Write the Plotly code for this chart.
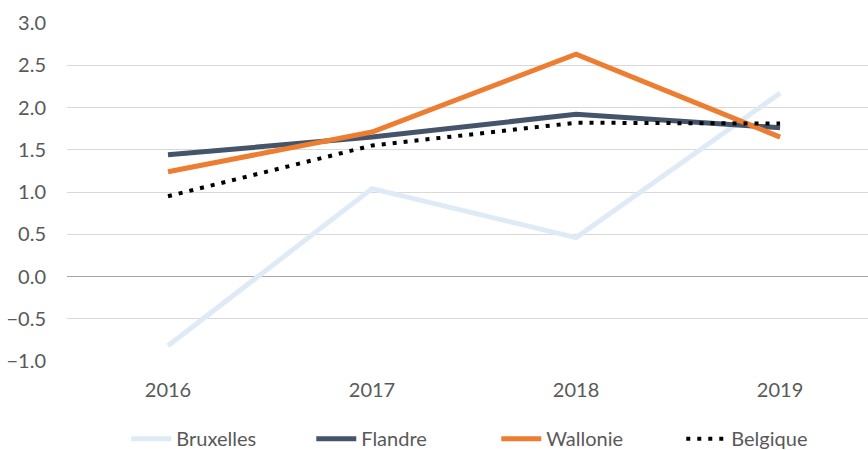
import plotly.graph_objects as go

years = ["2016", "2017", "2018", "2019"]
bruxelles = [-0.82, 1.04, 0.46, 2.17]
flandre = [1.44, 1.65, 1.92, 1.76]
wallonie = [1.24, 1.71, 2.63, 1.65]
belgique = [0.95, 1.55, 1.82, 1.81]
y_ticks = [-1.0, -0.5, 0.0, 0.5, 1.0, 1.5, 2.0, 2.5, 3.0]

fig = go.Figure()
fig.add_trace(go.Scatter(x=years, y=bruxelles, name="Bruxelles", mode="lines",
                         line=dict(color="#DEEBF7", width=5)))
fig.add_trace(go.Scatter(x=years, y=flandre, name="Flandre", mode="lines",
                         line=dict(color="#44546A", width=5)))
fig.add_trace(go.Scatter(x=years, y=wallonie, name="Wallonie", mode="lines",
                         line=dict(color="#ED7D31", width=5)))
fig.add_trace(go.Scatter(x=years, y=belgique, name="Belgique", mode="lines",
                         line=dict(color="#000000", width=4, dash="4px,7px")))

fig.update_layout(
    width=868, height=450,
    margin=dict(l=67, r=0, t=23, b=89, autoexpand=False),
    paper_bgcolor="white", plot_bgcolor="white",
    font=dict(family="Lato, Open Sans, sans-serif", size=20, color="#595959"),
    showlegend=True,
    legend=dict(orientation="h", x=0.074, xanchor="left", y=-0.172, yanchor="top",
                font=dict(size=20, color="#595959"), itemwidth=40,
                entrywidth=130, entrywidthmode="pixels", tracegroupgap=0),
    hovermode=False,
)
fig.update_xaxes(type="category", range=[-0.495, 3.431], showgrid=False,
                 showline=False, zeroline=False, ticks="", ticklabelstandoff=15,
                 automargin=False)
fig.update_yaxes(range=[-1, 3], tickvals=y_ticks, tickformat=".1f",
                 showgrid=True, gridcolor="#D9D9D9", gridwidth=1,
                 zeroline=True, zerolinecolor="#A6A6A6", zerolinewidth=1,
                 showline=False, ticks="", ticklabelstandoff=20, automargin=False)

fig.write_html("out.html", config={"displayModeBar": False},
               post_script="document.body.style.margin='0';")
